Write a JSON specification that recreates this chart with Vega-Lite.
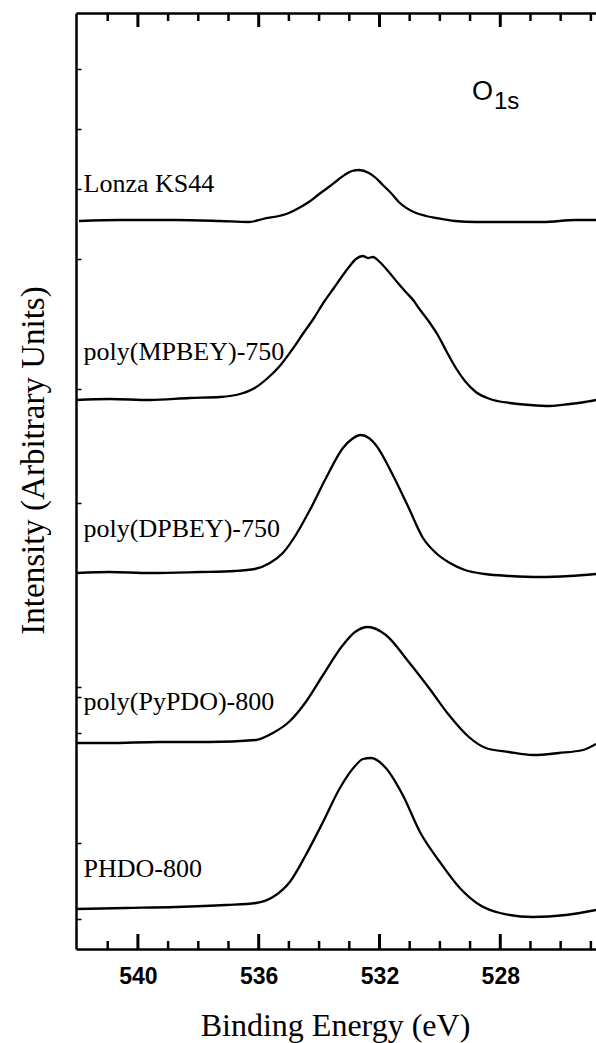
{
  "$schema": "https://vega.github.io/schema/vega-lite/v6.json",
  "width": 520,
  "height": 936,
  "autosize": "none",
  "padding": {"left": 76, "top": 13, "right": 0, "bottom": 94},
  "background": "white",
  "config": {"view": {"stroke": null}},
  "datasets": {
    "curves": [
      {"s": "Lonza KS44", "e": 541.95, "i": 728}, {"s": "Lonza KS44", "e": 540.6, "i": 729}, {"s": "Lonza KS44", "e": 538.74, "i": 729}, {"s": "Lonza KS44", "e": 537.28, "i": 728}, {"s": "Lonza KS44", "e": 536.32, "i": 727}, {"s": "Lonza KS44", "e": 535.86, "i": 730}, {"s": "Lonza KS44", "e": 535.0, "i": 736}, {"s": "Lonza KS44", "e": 534.67, "i": 741}, {"s": "Lonza KS44", "e": 534.34, "i": 747}, {"s": "Lonza KS44", "e": 534.04, "i": 754}, {"s": "Lonza KS44", "e": 533.68, "i": 762}, {"s": "Lonza KS44", "e": 533.38, "i": 769}, {"s": "Lonza KS44", "e": 533.11, "i": 775}, {"s": "Lonza KS44", "e": 532.91, "i": 778}, {"s": "Lonza KS44", "e": 532.68, "i": 779}, {"s": "Lonza KS44", "e": 532.35, "i": 776}, {"s": "Lonza KS44", "e": 532.12, "i": 771}, {"s": "Lonza KS44", "e": 531.89, "i": 764}, {"s": "Lonza KS44", "e": 531.62, "i": 756}, {"s": "Lonza KS44", "e": 531.36, "i": 747}, {"s": "Lonza KS44", "e": 530.79, "i": 736}, {"s": "Lonza KS44", "e": 530.46, "i": 733}, {"s": "Lonza KS44", "e": 530.13, "i": 731}, {"s": "Lonza KS44", "e": 529.5, "i": 728}, {"s": "Lonza KS44", "e": 528.81, "i": 727}, {"s": "Lonza KS44", "e": 527.68, "i": 727}, {"s": "Lonza KS44", "e": 526.59, "i": 727}, {"s": "Lonza KS44", "e": 525.5, "i": 729}, {"s": "Lonza KS44", "e": 524.83, "i": 729},
      {"s": "MPBEY", "e": 542.05, "i": 549}, {"s": "MPBEY", "e": 540.93, "i": 550}, {"s": "MPBEY", "e": 539.6, "i": 549}, {"s": "MPBEY", "e": 538.28, "i": 551}, {"s": "MPBEY", "e": 537.28, "i": 552}, {"s": "MPBEY", "e": 536.62, "i": 555}, {"s": "MPBEY", "e": 536.13, "i": 561}, {"s": "MPBEY", "e": 535.7, "i": 571}, {"s": "MPBEY", "e": 535.3, "i": 583}, {"s": "MPBEY", "e": 534.9, "i": 599}, {"s": "MPBEY", "e": 534.54, "i": 615}, {"s": "MPBEY", "e": 534.17, "i": 631}, {"s": "MPBEY", "e": 533.84, "i": 647}, {"s": "MPBEY", "e": 533.51, "i": 661}, {"s": "MPBEY", "e": 533.28, "i": 671}, {"s": "MPBEY", "e": 533.01, "i": 682}, {"s": "MPBEY", "e": 532.78, "i": 690}, {"s": "MPBEY", "e": 532.55, "i": 693}, {"s": "MPBEY", "e": 532.38, "i": 691}, {"s": "MPBEY", "e": 532.22, "i": 692}, {"s": "MPBEY", "e": 531.99, "i": 687}, {"s": "MPBEY", "e": 531.69, "i": 677}, {"s": "MPBEY", "e": 531.39, "i": 666}, {"s": "MPBEY", "e": 531.13, "i": 657}, {"s": "MPBEY", "e": 530.86, "i": 648}, {"s": "MPBEY", "e": 530.7, "i": 641}, {"s": "MPBEY", "e": 530.4, "i": 629}, {"s": "MPBEY", "e": 530.07, "i": 614}, {"s": "MPBEY", "e": 529.77, "i": 597}, {"s": "MPBEY", "e": 529.47, "i": 581}, {"s": "MPBEY", "e": 529.17, "i": 568}, {"s": "MPBEY", "e": 528.81, "i": 557}, {"s": "MPBEY", "e": 528.34, "i": 550}, {"s": "MPBEY", "e": 527.68, "i": 546}, {"s": "MPBEY", "e": 527.02, "i": 544}, {"s": "MPBEY", "e": 526.36, "i": 543}, {"s": "MPBEY", "e": 525.7, "i": 545}, {"s": "MPBEY", "e": 525.2, "i": 547}, {"s": "MPBEY", "e": 524.83, "i": 549},
      {"s": "DPBEY", "e": 542.02, "i": 376}, {"s": "DPBEY", "e": 540.93, "i": 377}, {"s": "DPBEY", "e": 539.6, "i": 376}, {"s": "DPBEY", "e": 537.95, "i": 377}, {"s": "DPBEY", "e": 536.79, "i": 378}, {"s": "DPBEY", "e": 536.13, "i": 380}, {"s": "DPBEY", "e": 535.63, "i": 386}, {"s": "DPBEY", "e": 535.2, "i": 396}, {"s": "DPBEY", "e": 534.77, "i": 414}, {"s": "DPBEY", "e": 534.34, "i": 437}, {"s": "DPBEY", "e": 533.77, "i": 471}, {"s": "DPBEY", "e": 533.21, "i": 501}, {"s": "DPBEY", "e": 532.91, "i": 510}, {"s": "DPBEY", "e": 532.62, "i": 514}, {"s": "DPBEY", "e": 532.35, "i": 511}, {"s": "DPBEY", "e": 532.12, "i": 504}, {"s": "DPBEY", "e": 531.56, "i": 474}, {"s": "DPBEY", "e": 531.03, "i": 441}, {"s": "DPBEY", "e": 530.56, "i": 411}, {"s": "DPBEY", "e": 530.13, "i": 396}, {"s": "DPBEY", "e": 529.67, "i": 386}, {"s": "DPBEY", "e": 529.17, "i": 379}, {"s": "DPBEY", "e": 528.51, "i": 375}, {"s": "DPBEY", "e": 527.68, "i": 373}, {"s": "DPBEY", "e": 526.69, "i": 372}, {"s": "DPBEY", "e": 525.7, "i": 373}, {"s": "DPBEY", "e": 524.83, "i": 375},
      {"s": "PyPDO", "e": 542.05, "i": 206}, {"s": "PyPDO", "e": 540.96, "i": 206}, {"s": "PyPDO", "e": 539.3, "i": 207}, {"s": "PyPDO", "e": 537.65, "i": 207}, {"s": "PyPDO", "e": 536.09, "i": 209}, {"s": "PyPDO", "e": 535.53, "i": 216}, {"s": "PyPDO", "e": 535.0, "i": 227}, {"s": "PyPDO", "e": 534.44, "i": 247}, {"s": "PyPDO", "e": 533.87, "i": 274}, {"s": "PyPDO", "e": 533.21, "i": 304}, {"s": "PyPDO", "e": 532.81, "i": 317}, {"s": "PyPDO", "e": 532.38, "i": 322}, {"s": "PyPDO", "e": 531.79, "i": 314}, {"s": "PyPDO", "e": 531.03, "i": 287}, {"s": "PyPDO", "e": 530.36, "i": 261}, {"s": "PyPDO", "e": 529.7, "i": 234}, {"s": "PyPDO", "e": 529.04, "i": 212}, {"s": "PyPDO", "e": 528.48, "i": 201}, {"s": "PyPDO", "e": 527.72, "i": 197}, {"s": "PyPDO", "e": 526.92, "i": 194}, {"s": "PyPDO", "e": 526.06, "i": 196}, {"s": "PyPDO", "e": 525.26, "i": 199}, {"s": "PyPDO", "e": 524.83, "i": 205},
      {"s": "PHDO", "e": 542.05, "i": 40}, {"s": "PHDO", "e": 540.4, "i": 41}, {"s": "PHDO", "e": 538.74, "i": 42}, {"s": "PHDO", "e": 537.09, "i": 44}, {"s": "PHDO", "e": 536.09, "i": 46}, {"s": "PHDO", "e": 535.53, "i": 52}, {"s": "PHDO", "e": 534.97, "i": 67}, {"s": "PHDO", "e": 534.44, "i": 94}, {"s": "PHDO", "e": 533.87, "i": 127}, {"s": "PHDO", "e": 533.31, "i": 161}, {"s": "PHDO", "e": 532.78, "i": 184}, {"s": "PHDO", "e": 532.55, "i": 190}, {"s": "PHDO", "e": 532.28, "i": 191}, {"s": "PHDO", "e": 531.79, "i": 181}, {"s": "PHDO", "e": 531.23, "i": 154}, {"s": "PHDO", "e": 530.66, "i": 117}, {"s": "PHDO", "e": 530.0, "i": 87}, {"s": "PHDO", "e": 529.34, "i": 61}, {"s": "PHDO", "e": 528.68, "i": 44}, {"s": "PHDO", "e": 528.01, "i": 36}, {"s": "PHDO", "e": 526.92, "i": 32}, {"s": "PHDO", "e": 525.83, "i": 34}, {"s": "PHDO", "e": 524.83, "i": 39}
    ],
    "labels": [
      {"t": "Lonza KS44", "e": 541.8, "i": 757},
      {"t": "poly(MPBEY)-750", "e": 541.8, "i": 589},
      {"t": "poly(DPBEY)-750", "e": 541.8, "i": 412},
      {"t": "poly(PyPDO)-800", "e": 541.8, "i": 239},
      {"t": "PHDO-800", "e": 541.8, "i": 72}
    ],
    "main": [{"t": "O", "e": 528.94, "i": 849}],
    "sub": [{"t": "1s", "e": 528.21, "i": 840}],
    "major": [{"e": 540}, {"e": 536}, {"e": 532}, {"e": 528}],
    "minor": [{"e": 541}, {"e": 539}, {"e": 538}, {"e": 537}, {"e": 535}, {"e": 534}, {"e": 533}, {"e": 531}, {"e": 530}, {"e": 529}, {"e": 527}, {"e": 526}, {"e": 525}]
  },
  "layer": [
    {
      "data": {"name": "curves"},
      "mark": {"type": "line", "color": "black", "strokeWidth": 2.3, "interpolate": "monotone"},
      "encoding": {
        "x": {
          "field": "e", "type": "quantitative",
          "scale": {"domain": [524.83, 542.05], "reverse": true, "nice": false, "zero": false},
          "axis": {
            "orient": "bottom", "values": [540, 536, 532, 528], "format": "d",
            "ticks": false,
            "domainColor": "black", "domainWidth": 2.5, "grid": false,
            "labelPadding": 16, "labelFont": "Liberation Sans", "labelFontSize": 23, "labelFontWeight": "bold", "labelColor": "black",
            "title": "Binding Energy (eV)", "titleFont": "Liberation Serif", "titleFontSize": 32, "titleFontWeight": "normal", "titleColor": "black",
            "titleX": 259, "titleY": 86, "titleBaseline": "alphabetic", "titleAlign": "center"
          }
        },
        "y": {
          "field": "i", "type": "quantitative",
          "scale": {"domain": [0, 936], "nice": false, "zero": false},
          "axis": {
            "orient": "left", "values": [30, 106, 216, 252, 262, 446, 560, 690, 760, 820, 880],
            "tickSize": -5, "tickWidth": 1.5, "tickColor": "black", "labels": false, "grid": false,
            "domainColor": "black", "domainWidth": 2.5,
            "title": "Intensity (Arbitrary Units)", "titleFont": "Liberation Serif", "titleFontSize": 33, "titleFontWeight": "normal", "titleColor": "black",
            "titleAngle": -90, "titleX": -33, "titleY": 447, "titleBaseline": "alphabetic", "titleAlign": "center"
          }
        },
        "detail": {"field": "s"}
      }
    },
    {
      "data": {"name": "labels"},
      "mark": {"type": "text", "align": "left", "baseline": "alphabetic", "font": "Liberation Serif", "fontSize": 26, "color": "black"},
      "encoding": {
        "x": {"field": "e", "type": "quantitative", "axis": null},
        "y": {"field": "i", "type": "quantitative", "axis": null},
        "text": {"field": "t"}
      }
    },
    {
      "data": {"name": "main"},
      "mark": {"type": "text", "align": "left", "baseline": "alphabetic", "font": "Liberation Sans", "fontSize": 27, "color": "black"},
      "encoding": {
        "x": {"field": "e", "type": "quantitative",
          "axis": {"orient": "top", "ticks": false, "labels": false, "domainColor": "black", "domainWidth": 2.5, "grid": false, "title": null}},
        "y": {"field": "i", "type": "quantitative", "axis": null},
        "text": {"field": "t"}
      }
    },
    {
      "data": {"name": "sub"},
      "mark": {"type": "text", "align": "left", "baseline": "alphabetic", "font": "Liberation Sans", "fontSize": 24, "color": "black"},
      "encoding": {
        "x": {"field": "e", "type": "quantitative", "axis": null},
        "y": {"field": "i", "type": "quantitative", "axis": null},
        "text": {"field": "t"}
      }
    },
    {
      "data": {"name": "major"},
      "mark": {"type": "rule", "color": "black", "strokeWidth": 3},
      "encoding": {
        "x": {"field": "e", "type": "quantitative", "axis": null},
        "y": {"datum": 0, "type": "quantitative", "axis": null},
        "y2": {"datum": 15}
      }
    },
    {
      "data": {"name": "major"},
      "mark": {"type": "rule", "color": "black", "strokeWidth": 3},
      "encoding": {
        "x": {"field": "e", "type": "quantitative", "axis": null},
        "y": {"datum": 936, "type": "quantitative", "axis": null},
        "y2": {"datum": 922}
      }
    },
    {
      "data": {"name": "minor"},
      "mark": {"type": "rule", "color": "black", "strokeWidth": 2.5},
      "encoding": {
        "x": {"field": "e", "type": "quantitative", "axis": null},
        "y": {"datum": 0, "type": "quantitative", "axis": null},
        "y2": {"datum": 8}
      }
    },
    {
      "data": {"name": "minor"},
      "mark": {"type": "rule", "color": "black", "strokeWidth": 2.5},
      "encoding": {
        "x": {"field": "e", "type": "quantitative", "axis": null},
        "y": {"datum": 936, "type": "quantitative", "axis": null},
        "y2": {"datum": 928}
      }
    }
  ],
  "resolve": {"axis": {"x": "independent", "y": "independent"}}
}
